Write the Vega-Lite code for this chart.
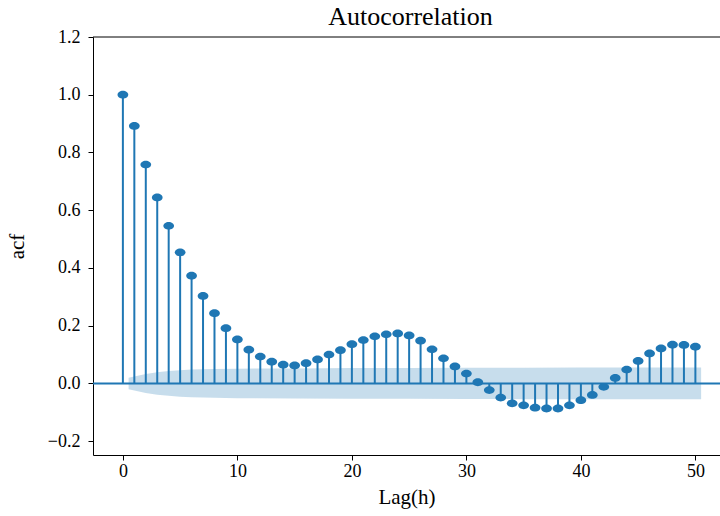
{
  "$schema": "https://vega.github.io/schema/vega-lite/v6.json",
  "autosize": "none",
  "width": 627,
  "height": 418,
  "padding": {"left": 93, "top": 37, "right": 0, "bottom": 61},
  "background": "white",
  "config": {
    "view": {"stroke": null},
    "axis": {
      "labelFont": "Liberation Serif",
      "labelFontSize": 18,
      "labelColor": "black",
      "titleFont": "Liberation Serif",
      "titleFontSize": 21,
      "titleFontWeight": "normal",
      "titleColor": "black",
      "domainColor": "black",
      "domainWidth": 1,
      "tickColor": "black",
      "tickSize": 5,
      "grid": false
    }
  },
  "title": {
    "text": "Autocorrelation",
    "font": "Liberation Serif",
    "fontSize": 26,
    "fontWeight": "normal",
    "color": "black",
    "anchor": "middle",
    "dx": 4,
    "offset": -2
  },
  "datasets": {
    "acf": [
      {"lag": 0, "acf": 1.0},
      {"lag": 1, "acf": 0.892},
      {"lag": 2, "acf": 0.758},
      {"lag": 3, "acf": 0.644},
      {"lag": 4, "acf": 0.546},
      {"lag": 5, "acf": 0.454},
      {"lag": 6, "acf": 0.373},
      {"lag": 7, "acf": 0.303},
      {"lag": 8, "acf": 0.243},
      {"lag": 9, "acf": 0.191},
      {"lag": 10, "acf": 0.152},
      {"lag": 11, "acf": 0.117},
      {"lag": 12, "acf": 0.093},
      {"lag": 13, "acf": 0.075},
      {"lag": 14, "acf": 0.065},
      {"lag": 15, "acf": 0.062},
      {"lag": 16, "acf": 0.070},
      {"lag": 17, "acf": 0.083},
      {"lag": 18, "acf": 0.100},
      {"lag": 19, "acf": 0.115},
      {"lag": 20, "acf": 0.136},
      {"lag": 21, "acf": 0.150},
      {"lag": 22, "acf": 0.163},
      {"lag": 23, "acf": 0.170},
      {"lag": 24, "acf": 0.173},
      {"lag": 25, "acf": 0.166},
      {"lag": 26, "acf": 0.148},
      {"lag": 27, "acf": 0.118},
      {"lag": 28, "acf": 0.087},
      {"lag": 29, "acf": 0.059},
      {"lag": 30, "acf": 0.034},
      {"lag": 31, "acf": 0.004},
      {"lag": 32, "acf": -0.023},
      {"lag": 33, "acf": -0.049},
      {"lag": 34, "acf": -0.069},
      {"lag": 35, "acf": -0.076},
      {"lag": 36, "acf": -0.084},
      {"lag": 37, "acf": -0.087},
      {"lag": 38, "acf": -0.087},
      {"lag": 39, "acf": -0.076},
      {"lag": 40, "acf": -0.058},
      {"lag": 41, "acf": -0.040},
      {"lag": 42, "acf": -0.012},
      {"lag": 43, "acf": 0.019},
      {"lag": 44, "acf": 0.048},
      {"lag": 45, "acf": 0.078},
      {"lag": 46, "acf": 0.104},
      {"lag": 47, "acf": 0.121},
      {"lag": 48, "acf": 0.134},
      {"lag": 49, "acf": 0.133},
      {"lag": 50, "acf": 0.127}
    ],
    "band": [
      {"lag": 0.5, "lo": -0.020, "hi": 0.020},
      {"lag": 2, "lo": -0.033, "hi": 0.033},
      {"lag": 3, "lo": -0.039, "hi": 0.039},
      {"lag": 4, "lo": -0.043, "hi": 0.043},
      {"lag": 5, "lo": -0.046, "hi": 0.046},
      {"lag": 6, "lo": -0.048, "hi": 0.048},
      {"lag": 7, "lo": -0.049, "hi": 0.049},
      {"lag": 8, "lo": -0.050, "hi": 0.050},
      {"lag": 10, "lo": -0.051, "hi": 0.051},
      {"lag": 15, "lo": -0.052, "hi": 0.052},
      {"lag": 20, "lo": -0.053, "hi": 0.053},
      {"lag": 25, "lo": -0.0535, "hi": 0.0535},
      {"lag": 30, "lo": -0.054, "hi": 0.054},
      {"lag": 35, "lo": -0.0545, "hi": 0.0545},
      {"lag": 40, "lo": -0.055, "hi": 0.055},
      {"lag": 50.5, "lo": -0.055, "hi": 0.055}
    ],
    "frame": [{"top": 1.2}]
  },
  "layer": [
    {
      "data": {"name": "band"},
      "mark": {"type": "area", "color": "#1f77b4", "opacity": 0.25},
      "encoding": {
        "x": {
          "field": "lag", "type": "quantitative",
          "scale": {"domain": [-2.61, 52.15], "nice": false, "zero": false},
          "axis": {"title": "Lag(h)", "values": [0, 10, 20, 30, 40, 50], "format": "d",
                   "labelFont": "Liberation Serif", "labelFontSize": 18, "labelPadding": 2, "titlePadding": 6}
        },
        "y": {
          "field": "lo", "type": "quantitative",
          "scale": {"domain": [-0.248, 1.2], "nice": false, "zero": false},
          "axis": {"title": "acf", "values": [-0.2, 0, 0.2, 0.4, 0.6, 0.8, 1.0, 1.2], "format": ".1f",
                   "labelFont": "Liberation Serif", "labelFontSize": 18, "labelPadding": 8, "titlePadding": 20}
        },
        "y2": {"field": "hi"}
      }
    },
    {
      "data": {"name": "frame"},
      "mark": {"type": "rule", "color": "#1f77b4", "strokeWidth": 2},
      "encoding": {"y": {"datum": 0}}
    },
    {
      "data": {"name": "acf"},
      "mark": {"type": "rule", "color": "#1f77b4", "strokeWidth": 2},
      "encoding": {
        "x": {"field": "lag", "type": "quantitative"},
        "y": {"field": "acf", "type": "quantitative"},
        "y2": {"datum": 0}
      }
    },
    {
      "data": {"name": "acf"},
      "mark": {"type": "point", "filled": true, "opacity": 1, "color": "#1f77b4", "shape": "M-1,0A1,0.73,0,1,0,1,0A1,0.73,0,1,0,-1,0Z", "size": 115},
      "encoding": {
        "x": {"field": "lag", "type": "quantitative"},
        "y": {"field": "acf", "type": "quantitative"}
      }
    },
    {
      "data": {"name": "frame"},
      "mark": {"type": "rule", "color": "black", "strokeWidth": 1},
      "encoding": {"y": {"field": "top", "type": "quantitative"}}
    }
  ]
}
